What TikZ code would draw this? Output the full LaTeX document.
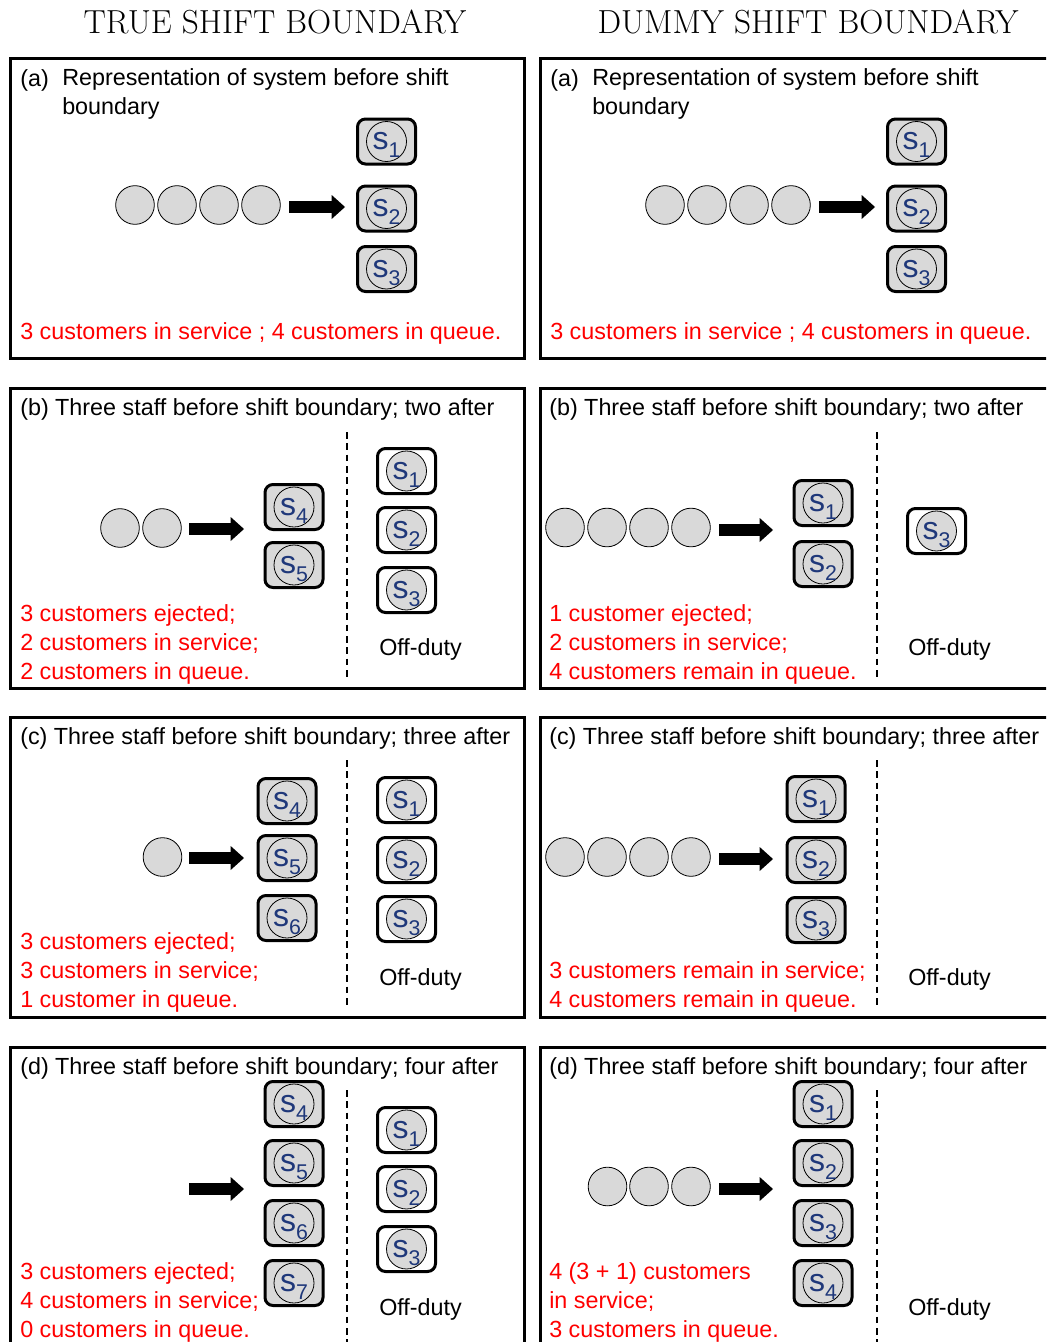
\documentclass[tikz,border=0pt]{standalone}
\usepackage{fontspec}
\newfontfamily\arialfont{Liberation Sans}
\usetikzlibrary{arrows.meta}
\definecolor{qgray}{RGB}{217,217,217}
\definecolor{srvblue}{RGB}{31,56,122}
\newcommand{\srvlbl}[1]{{\arialfont\fontsize{24}{24}\selectfont s\raisebox{-6pt}[0pt][0pt]{\fontsize{16}{16}\selectfont #1}}}

\begin{document}
\begin{tikzpicture}[x=0.75pt, y=-0.75pt] % 1 unit = 1 px of the original
    \tikzstyle{panel}=[line width=2.25pt]
    \tikzstyle{txt}=[inner sep=0pt, anchor=base west, font=\arialfont\fontsize{17.5}{21.4}\selectfont]
    \tikzstyle{note}=[txt, text=red, align=left] % anchored at the base of the last line
    \tikzstyle{cust}=[circle, draw, fill=qgray, line width=0.6pt, minimum size=29pt, inner sep=0pt]
    \tikzstyle{srv}=[draw, line width=2.25pt, rounded corners=6pt, minimum width=43.5pt, minimum height=33.75pt, inner sep=0pt, text=srvblue,
        path picture={\draw[line width=0.6pt, fill=qgray, sharp corners] (path picture bounding box.center) circle (15pt);}]
    \tikzstyle{onsrv}=[srv, fill=qgray]
    \tikzstyle{offsrv}=[srv, fill=white]
    \tikzstyle{bigarrow}=[line width=9pt, -{Triangle[length=10pt, width=18pt, line width=0pt]}]
    \tikzstyle{divider}=[line width=1.1pt, dash pattern=on 5pt off 3.5pt]

    \useasboundingbox (0,0) rectangle (1046,1342);
    \clip (0,0) rectangle (1046,1342);

    \node (ttrue) [font=\fontsize{25}{29}\selectfont] at (275,22) {TRUE SHIFT BOUNDARY};
    \node (tdummy) [font=\fontsize{25}{29}\selectfont] at (808,22) {DUMMY SHIFT BOUNDARY};

    % frames
    \foreach \y in {58,388,717,1047} {
        \draw[panel] (10,\y) rectangle (524,\y+300);
        \draw[panel] (540,\y) rectangle (1062,\y+300);
    }

    % (a) same on both sides
    \foreach \c/\dx in {L/0,R/530} {
        \begin{scope}[shift={(\dx,0)}]
            \node (a\c-lab) [txt] at (20,86) {(a)};
            \node (a\c-tit) [txt, align=left] at (62,114) {Representation of system before shift\\boundary};
            \foreach \i/\x in {1/135,2/177,3/219,4/261}
                \node (a\c-c\i) [cust] at (\x,205) {};
            \coordinate (a\c-t) at (289,207);
            \coordinate (a\c-h) at (345,207);
            \draw[bigarrow] (a\c-t) -- (a\c-h);
            \foreach \i/\y in {1/141.5,2/208.5,3/269}
                \node (a\c-s\i) [onsrv] at (386.5,\y) {\srvlbl{\i}};
            \node (a\c-note) [note] at (20,339) {3 customers in service ; 4 customers in queue.};
        \end{scope}
    }

    % (b) true
    \node (bL-tit) [txt] at (20,415) {(b) Three staff before shift boundary; two after};
    \foreach \i/\x in {1/120,2/162}
        \node (bL-c\i) [cust] at (\x,528) {};
    \coordinate (bL-t) at (189,529);
    \coordinate (bL-h) at (244,529);
    \draw[bigarrow] (bL-t) -- (bL-h);
    \node (bL-s4) [onsrv] at (294,507) {\srvlbl{4}};
    \node (bL-s5) [onsrv] at (294,565) {\srvlbl{5}};
    \draw[divider] (347,432) -- (347,680);
    \foreach \i/\y in {1/471,2/530,3/590}
        \node (bL-o\i) [offsrv] at (406.5,\y) {\srvlbl{\i}};
    \node (bL-off) [txt] at (379,655) {Off-duty};
    \node (bL-note) [note] at (20,679) {3 customers ejected;\\2 customers in service;\\2 customers in queue.};

    % (b) dummy
    \node (bR-tit) [txt] at (549,415) {(b) Three staff before shift boundary; two after};
    \foreach \i/\x in {1/565,2/607,3/649,4/691}
        \node (bR-c\i) [cust] at (\x,527.5) {};
    \coordinate (bR-t) at (719,530);
    \coordinate (bR-h) at (773,530);
    \draw[bigarrow] (bR-t) -- (bR-h);
    \node (bR-s1) [onsrv] at (823,503) {\srvlbl{1}};
    \node (bR-s2) [onsrv] at (823,564) {\srvlbl{2}};
    \draw[divider] (877,432) -- (877,680);
    \node (bR-o3) [offsrv] at (936.5,531) {\srvlbl{3}};
    \node (bR-off) [txt] at (908,655) {Off-duty};
    \node (bR-note) [note] at (549,679) {1 customer ejected;\\2 customers in service;\\4 customers remain in queue.};

    % (c) true
    \node (cL-tit) [txt] at (20,744) {(c) Three staff before shift boundary; three after};
    \node (cL-c1) [cust] at (162.5,857) {};
    \coordinate (cL-t) at (189,858);
    \coordinate (cL-h) at (244,858);
    \draw[bigarrow] (cL-t) -- (cL-h);
    \foreach \i/\y in {4/801,5/858,6/918}
        \node (cL-s\i) [onsrv] at (287,\y) {\srvlbl{\i}};
    \draw[divider] (347,760) -- (347,1005);
    \foreach \i/\y in {1/800,2/860,3/919}
        \node (cL-o\i) [offsrv] at (406.5,\y) {\srvlbl{\i}};
    \node (cL-off) [txt] at (379,985) {Off-duty};
    \node (cL-note) [note] at (20,1007) {3 customers ejected;\\3 customers in service;\\1 customer in queue.};

    % (c) dummy
    \node (cR-tit) [txt] at (549,744) {(c) Three staff before shift boundary; three after};
    \foreach \i/\x in {1/565,2/607,3/649,4/691}
        \node (cR-c\i) [cust] at (\x,857) {};
    \coordinate (cR-t) at (719,859);
    \coordinate (cR-h) at (773,859);
    \draw[bigarrow] (cR-t) -- (cR-h);
    \foreach \i/\y in {1/799,2/860,3/920}
        \node (cR-s\i) [onsrv] at (816,\y) {\srvlbl{\i}};
    \draw[divider] (877,760) -- (877,1005);
    \node (cR-off) [txt] at (908,985) {Off-duty};
    \node (cR-note) [note] at (549,1007) {3 customers remain in service;\\4 customers remain in queue.};

    % (d) true
    \node (dL-tit) [txt] at (20,1074) {(d) Three staff before shift boundary; four after};
    \coordinate (dL-t) at (189,1189);
    \coordinate (dL-h) at (244,1189);
    \draw[bigarrow] (dL-t) -- (dL-h);
    \foreach \i/\y in {4/1104,5/1163,6/1223,7/1283}
        \node (dL-s\i) [onsrv] at (294,\y) {\srvlbl{\i}};
    \draw[divider] (347,1090) -- (347,1342);
    \foreach \i/\y in {1/1130,2/1189,3/1249}
        \node (dL-o\i) [offsrv] at (406.5,\y) {\srvlbl{\i}};
    \node (dL-off) [txt] at (379,1315) {Off-duty};
    \node (dL-note) [note] at (20,1337) {3 customers ejected;\\4 customers in service;\\0 customers in queue.};

    % (d) dummy
    \node (dR-tit) [txt] at (549,1074) {(d) Three staff before shift boundary; four after};
    \foreach \i/\x in {1/607.5,2/649,3/691}
        \node (dR-c\i) [cust] at (\x,1186.5) {};
    \coordinate (dR-t) at (719,1189);
    \coordinate (dR-h) at (773,1189);
    \draw[bigarrow] (dR-t) -- (dR-h);
    \foreach \i/\y in {1/1104,2/1163,3/1223,4/1283}
        \node (dR-s\i) [onsrv] at (823,\y) {\srvlbl{\i}};
    \draw[divider] (877,1090) -- (877,1342);
    \node (dR-off) [txt] at (908,1315) {Off-duty};
    \node (dR-note) [note] at (549,1337) {4 (3 + 1) customers\\in service;\\3 customers in queue.};
\end{tikzpicture}
\end{document}
